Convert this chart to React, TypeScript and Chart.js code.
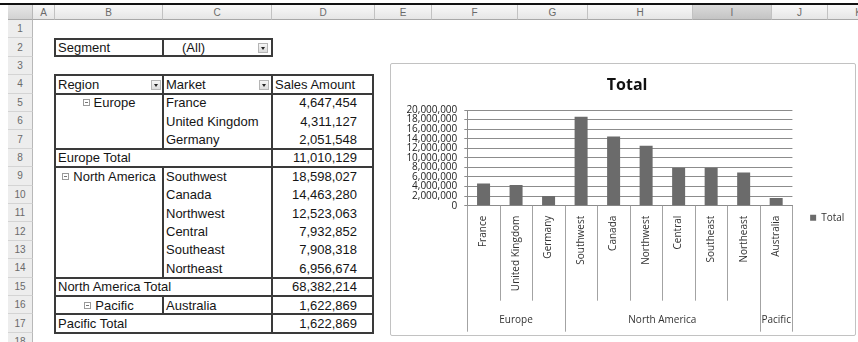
import React, { useEffect, useRef } from 'react';
import { Chart, registerables } from 'chart.js';

Chart.register(...registerables);

// ---------- data ----------
const markets = ['France', 'United Kingdom', 'Germany', 'Southwest', 'Canada', 'Northwest', 'Central', 'Southeast', 'Northeast', 'Australia'];
const salesAmount = [4647454, 4311127, 2051548, 18598027, 14463280, 12523063, 7932852, 7908318, 6956674, 1622869];
const regions = ['Europe', 'North America', 'Pacific'];
const regionMarketCounts = [3, 6, 1];
const seriesName = 'Total';
const chartTitle = 'Total';
const yMax = 20000000;
const yStep = 2000000;
const columnLetters = ['A', 'B', 'C', 'D', 'E', 'F', 'G', 'H', 'I', 'J', 'K'];
const columnEdges = [33, 55, 163, 272, 375, 432, 518, 588, 693, 772, 828, 890];
const segmentFilter = ['Segment', '(All)'];
const pivotHeaders = ['Region', 'Market', 'Sales Amount'];

const CHART_FONT = '"Open Sans", "DejaVu Sans", sans-serif';
const SHEET_FONT = '"Liberation Sans", Arial, sans-serif';

// ---------- sheet geometry ----------
const HDR_TOP = 5;
const HDR_BOTTOM = 20;
const ROW_H = 18.4;
const rowTop = (r: number) => HDR_BOTTOM + (r - 1) * ROW_H;
const XB = columnEdges[1];
const XC = columnEdges[2];
const XD = columnEdges[3];
const XEND = 373;

const fmt = (v: number) => v.toLocaleString('en-US');

const HLine = ({ x1, x2, y, w = 2, c = '#3a3a3a' }: any) => (
  <div style={{ position: 'absolute', left: x1 - w / 2, top: y - w / 2, width: x2 - x1 + w, height: w, background: c }} />
);
const VLine = ({ x, y1, y2, w = 2, c = '#3a3a3a' }: any) => (
  <div style={{ position: 'absolute', left: x - w / 2, top: y1 - w / 2, width: w, height: y2 - y1 + w, background: c }} />
);

const Cell = ({ x1, x2, r, children, align = 'left', padL = 3, padR = 3 }: any) => (
  <div
    style={{
      position: 'absolute',
      left: x1,
      top: rowTop(r),
      width: x2 - x1,
      height: ROW_H,
      display: 'flex',
      alignItems: 'center',
      justifyContent: align === 'left' ? 'flex-start' : align === 'right' ? 'flex-end' : 'center',
      paddingLeft: padL,
      paddingRight: padR,
      boxSizing: 'border-box',
      fontFamily: SHEET_FONT,
      fontSize: 13,
      color: '#151515',
      whiteSpace: 'nowrap',
      overflow: 'visible',
    }}
  >
    {children}
  </div>
);

const DropBtn = ({ x, r }: any) => (
  <div
    style={{
      position: 'absolute',
      left: x,
      top: rowTop(r) + 4.5,
      width: 10,
      height: 10,
      boxSizing: 'border-box',
      border: '1px solid #b5b5b5',
      background: 'linear-gradient(#f6f6f6, #dcdcdc)',
    }}
  >
    <div
      style={{
        position: 'absolute',
        left: 2,
        top: 3,
        width: 0,
        height: 0,
        borderLeft: '2.5px solid transparent',
        borderRight: '2.5px solid transparent',
        borderTop: '3px solid #222',
      }}
    />
  </div>
);

const MinusBox = () => (
  <span
    style={{
      display: 'inline-block',
      position: 'relative',
      width: 7,
      height: 7,
      border: '1px solid #9a9a9a',
      marginRight: 4,
      boxSizing: 'border-box',
      background: '#fff',
    }}
  >
    <span style={{ position: 'absolute', left: 1, top: 2, width: 3, height: 1, background: '#777' }} />
  </span>
);

function Sheet() {
  const els: any[] = [];
  // top black frame line
  els.push(<div key="topline" style={{ position: 'absolute', left: 0, top: 3, width: 858, height: 2, background: '#111' }} />);
  // column header
  els.push(
    <div key="corner" style={{ position: 'absolute', left: 8, top: HDR_TOP, width: columnEdges[0] - 8, height: HDR_BOTTOM - HDR_TOP, background: 'linear-gradient(#e6e6e6,#d2d2d2)', borderRight: '1px solid #b8b8b8', borderBottom: '1px solid #a8a8a8', boxSizing: 'border-box' }} />
  );
  columnLetters.forEach((L, i) => {
    const l = columnEdges[i];
    const r = columnEdges[i + 1];
    const sel = L === 'I';
    els.push(
      <div
        key={'col' + L}
        style={{
          position: 'absolute',
          left: l,
          top: HDR_TOP,
          width: r - l,
          height: HDR_BOTTOM - HDR_TOP,
          boxSizing: 'border-box',
          borderRight: '1px solid #c2c2c2',
          borderBottom: '1px solid #a8a8a8',
          background: sel ? 'linear-gradient(#dadada,#c4c4c4)' : 'linear-gradient(#f8f8f8,#e6e6e6)',
          fontFamily: SHEET_FONT,
          fontSize: 10,
          color: '#6a6a6a',
          display: 'flex',
          alignItems: 'center',
          justifyContent: 'center',
        }}
      >
        {L}
      </div>
    );
  });
  // row header
  for (let r = 1; r <= 18; r++) {
    els.push(
      <div
        key={'row' + r}
        style={{
          position: 'absolute',
          left: 8,
          top: rowTop(r),
          width: columnEdges[0] - 8,
          height: ROW_H,
          boxSizing: 'border-box',
          borderBottom: '1px solid #d4d4d4',
          borderRight: '1px solid #b8b8b8',
          background: '#ededed',
          fontFamily: SHEET_FONT,
          fontSize: 10,
          color: '#6a6a6a',
          display: 'flex',
          alignItems: 'center',
          justifyContent: 'center',
        }}
      >
        {r}
      </div>
    );
  }

  // Segment filter (row 2)
  els.push(<Cell key="seg" x1={XB} x2={XC} r={2}>{segmentFilter[0]}</Cell>);
  els.push(<div key="segall" style={{ position: 'absolute', left: 182, top: rowTop(2), height: ROW_H, display: 'flex', alignItems: 'center', fontFamily: SHEET_FONT, fontSize: 13, color: '#151515' }}>{segmentFilter[1]}</div>);
  els.push(<DropBtn key="segbtn" x={258} r={2} />);
  els.push(<HLine key="segt" x1={XB} x2={XD} y={rowTop(2) + 1} />);
  els.push(<HLine key="segb" x1={XB} x2={XD} y={rowTop(3) - 1} />);
  els.push(<VLine key="segl" x={XB} y1={rowTop(2) + 1} y2={rowTop(3) - 1} />);
  els.push(<VLine key="segm" x={XC} y1={rowTop(2) + 1} y2={rowTop(3) - 1} />);
  els.push(<VLine key="segr" x={XD} y1={rowTop(2) + 1} y2={rowTop(3) - 1} />);

  // header row 4
  els.push(<Cell key="h0" x1={XB} x2={XC} r={4}>{pivotHeaders[0]}</Cell>);
  els.push(<Cell key="h1" x1={XC} x2={XD} r={4}>{pivotHeaders[1]}</Cell>);
  els.push(<Cell key="h2" x1={XD} x2={XEND} r={4}>{pivotHeaders[2]}</Cell>);
  els.push(<DropBtn key="hb0" x={151} r={4} />);
  els.push(<DropBtn key="hb1" x={259} r={4} />);

  const top = rowTop(4);
  const bottom = rowTop(18);
  els.push(<HLine key="tt" x1={XB} x2={XEND} y={top} />);
  els.push(<HLine key="tb" x1={XB} x2={XEND} y={bottom} />);
  els.push(<VLine key="tl" x={XB} y1={top} y2={bottom} />);
  els.push(<VLine key="tr" x={XEND} y1={top} y2={bottom} />);
  els.push(<VLine key="tcd" x={XD} y1={top} y2={bottom} />);
  els.push(<VLine key="hbc" x={XC} y1={top} y2={rowTop(5)} />);
  els.push(<HLine key="hl" x1={XB} x2={XEND} y={rowTop(5)} />);

  let r = 5;
  let idx = 0;
  regions.forEach((g, k) => {
    const start = r;
    const n = regionMarketCounts[k];
    let sum = 0;
    for (let j = 0; j < n; j++) {
      els.push(<Cell key={'m' + idx} x1={XC} x2={XD} r={r}>{markets[idx]}</Cell>);
      els.push(<Cell key={'v' + idx} x1={XD} x2={XEND} r={r} align="right" padR={16}>{fmt(salesAmount[idx])}</Cell>);
      sum += salesAmount[idx];
      idx++;
      r++;
    }
    els.push(
      <Cell key={'g' + k} x1={XB} x2={XC} r={start} align="center">
        <MinusBox />
        {g}
      </Cell>
    );
    els.push(<VLine key={'gv' + k} x={XC} y1={rowTop(start)} y2={rowTop(r)} />);
    els.push(<HLine key={'gt' + k} x1={XB} x2={XEND} y={rowTop(r)} />);
    els.push(<Cell key={'tot' + k} x1={XB} x2={XD} r={r}>{g + ' Total'}</Cell>);
    els.push(<Cell key={'totv' + k} x1={XD} x2={XEND} r={r} align="right" padR={16}>{fmt(sum)}</Cell>);
    r++;
    els.push(<HLine key={'gb' + k} x1={XB} x2={XEND} y={rowTop(r)} />);
  });
  return <>{els}</>;
}

const groupPlugin = {
  id: 'marketGroups',
  beforeDraw(chart: any) {
    const lg = chart.legend;
    if (lg) {
      lg.top = 40;
    }
  },
  afterDraw(chart: any) {
    const x = chart.scales.x;
    const area = chart.chartArea;
    const ctx = chart.ctx;
    const w = x.getPixelForValue(1) - x.getPixelForValue(0);
    const start = x.getPixelForValue(0) - w / 2;
    const edges = new Set<number>([0]);
    let acc = 0;
    regionMarketCounts.forEach((c) => {
      acc += c;
      edges.add(acc);
    });
    ctx.save();
    ctx.strokeStyle = '#a3a3a3';
    ctx.lineWidth = 1;
    for (let i = 0; i <= markets.length; i++) {
      const px = Math.round(start + i * w) + 0.5;
      ctx.beginPath();
      ctx.moveTo(px, area.bottom);
      ctx.lineTo(px, edges.has(i) ? x.bottom : area.bottom + 95);
      ctx.stroke();
    }
    ctx.fillStyle = '#333';
    ctx.font = '10px ' + CHART_FONT;
    ctx.textAlign = 'center';
    ctx.textBaseline = 'middle';
    let i0 = 0;
    regions.forEach((g, k) => {
      const a = start + i0 * w;
      const b = start + (i0 + regionMarketCounts[k]) * w;
      ctx.fillText(g, (a + b) / 2, x.bottom - 12);
      i0 += regionMarketCounts[k];
    });
    ctx.restore();
  },
};

function SalesChart() {
  const ref = useRef<HTMLCanvasElement | null>(null);
  useEffect(() => {
    if (!ref.current) return;
    Chart.defaults.font.family = CHART_FONT;
    const chart = new Chart(ref.current, {
      type: 'bar',
      data: {
        labels: markets,
        datasets: [
          {
            label: seriesName,
            data: salesAmount,
            backgroundColor: '#6b6b6b',
            borderWidth: 0,
            barPercentage: 0.4,
            categoryPercentage: 1,
          },
        ],
      },
      options: {
        responsive: false,
        animation: false,
        devicePixelRatio: 1,
        layout: { padding: { left: 9, right: 0.7, top: 0, bottom: 3.3 } },
        plugins: {
          title: {
            display: true,
            text: chartTitle,
            color: '#111',
            font: { size: 16, weight: 'bold', family: CHART_FONT },
            padding: { top: 12, bottom: 14.8 },
          },
          legend: {
            position: 'right',
            labels: {
              boxWidth: 6,
              boxHeight: 6,
              padding: 17.7,
              color: '#333',
              font: { size: 10, family: CHART_FONT },
            },
          },
          tooltip: { enabled: false },
        },
        scales: {
          x: {
            ticks: {
              autoSkip: false,
              maxRotation: 90,
              minRotation: 90,
              padding: 10,
              color: '#333',
              font: { size: 10, family: CHART_FONT },
            },
            grid: { display: false, drawTicks: false },
            border: { display: true, color: '#8c8c8c' },
            afterFit: (s: any) => {
              s.height = 126;
            },
          },
          y: {
            min: 0,
            max: yMax,
            ticks: {
              stepSize: yStep,
              autoSkip: false,
              padding: 7,
              color: '#222',
              font: { size: 10, family: CHART_FONT },
              callback: (v: any) => Number(v).toLocaleString('en-US'),
            },
            grid: { color: '#8c8c8c', tickLength: 3, drawTicks: true },
            border: { display: true, color: '#8c8c8c' },
            afterFit: (s: any) => {
              s.width = 67.3;
            },
          },
        },
      },
      plugins: [groupPlugin],
    } as any);
    return () => chart.destroy();
  }, []);
  return (
    <div
      style={{
        position: 'absolute',
        left: 390,
        top: 63,
        width: 466,
        height: 273,
        boxSizing: 'border-box',
        border: '1px solid #c2c2c2',
        borderRadius: 2,
        background: '#fff',
      }}
    >
      <canvas ref={ref} width={464} height={271} style={{ display: 'block', width: 464, height: 271 }} />
    </div>
  );
}

export default function App() {
  return (
    <div style={{ position: 'absolute', left: 0, top: 0, width: 858, height: 342, background: '#fff', overflow: 'hidden' }}>
      <Sheet />
      <SalesChart />
    </div>
  );
}
